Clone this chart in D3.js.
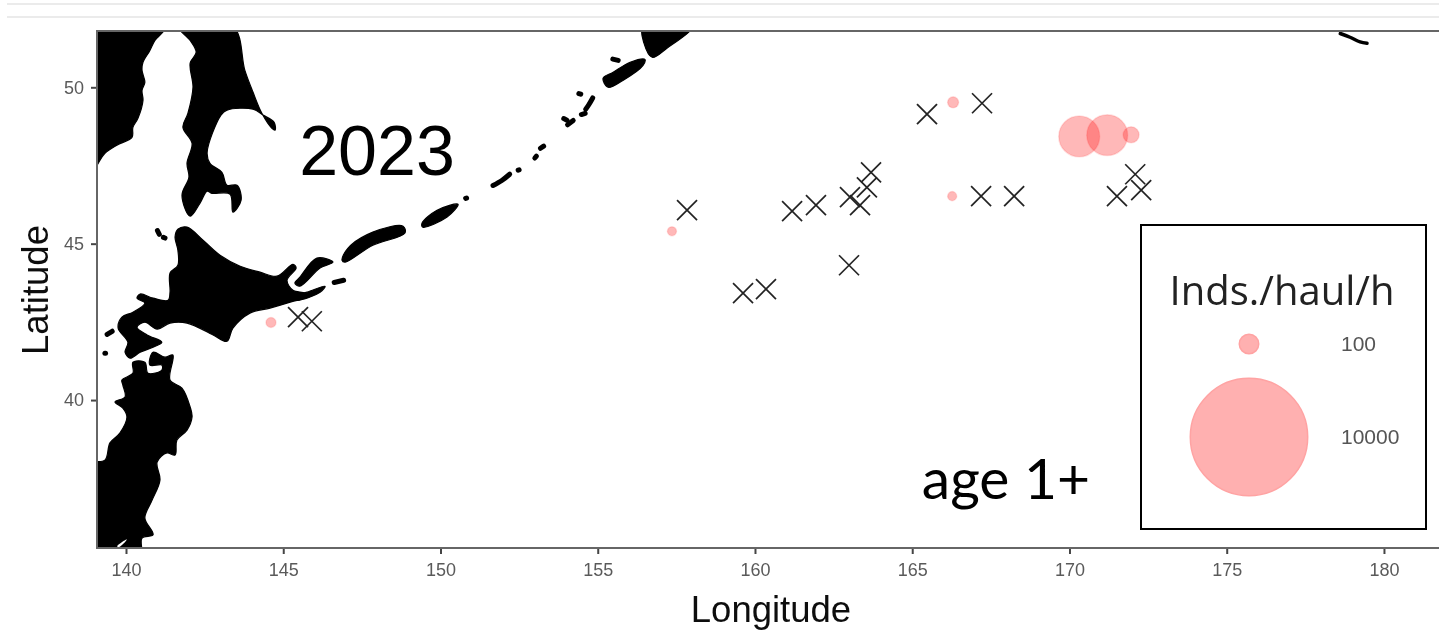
<!DOCTYPE html>
<html>
<head>
<meta charset="utf-8">
<script src="https://cdn.jsdelivr.net/npm/d3@7"></script>
<style>
  html,body{margin:0;padding:0;background:#fff;}
  svg{display:block;font-family:"Liberation Sans",Arial,sans-serif;}
</style>
</head>
<body>
<svg id="chart" width="1439" height="630"></svg>
<script>
// catch positions
var emptyHauls = [[145.47,42.65],[145.91,42.52],[157.84,46.07],[159.62,43.42],[160.35,43.55],[161.18,46.04],[161.94,46.23],[163.02,46.49],[163.34,46.23],[162.99,44.31],[163.56,46.80],[163.69,47.28],[165.47,49.14],[167.22,49.49],[167.19,46.52],[168.24,46.52],[171.51,46.52],[172.09,47.22],[172.28,46.71]];
var catchHauls = [[170.31,48.43,670],[171.20,48.47,670],[171.96,48.48,61],[166.30,49.52,23],[166.27,46.52,14],[157.36,45.40,14],[144.61,42.48,18]];
var legendValues = [100,10000];
var lonTicks = [140,145,150,155,160,165,170,175,180];
var latTicks = [40,45,50];

// coastlines, lon/lat
var mainland = [[139,51.9],[141.24,51.9],[140.92,51.50],[140.76,51.18],[140.54,50.80],[140.51,50.54],[140.60,50.16],[140.51,49.90],[140.54,49.58],[140.38,49.01],[140.22,48.72],[140.19,48.40],[139.71,48.15],[139.33,47.89],[139.08,47.51],[138.9,47.2]];
var sakhalin = [[141.65,51.95],[142.04,51.50],[142.23,51.12],[142.04,50.77],[142.13,50.00],[141.97,49.17],[141.81,48.72],[142.10,48.21],[141.94,47.57],[142.00,47.12],[141.78,46.55],[142.04,45.88],[142.35,46.29],[142.58,46.68],[142.73,46.61],[143.31,46.58],[143.40,46.01],[143.66,46.39],[143.53,46.87],[143.21,46.87],[143.05,47.28],[142.67,47.57],[142.58,47.92],[143.02,49.11],[143.21,49.27],[144.04,49.30],[144.36,49.11],[144.71,48.88],[144.74,48.63],[144.64,48.69],[144.32,49.17],[144.04,49.84],[143.78,50.54],[143.40,51.95]];
var hokkaido = [[141.94,45.53],[142.45,45.11],[142.99,44.63],[143.63,44.28],[144.26,44.09],[144.80,43.96],[145.31,44.34],[145.41,44.22],[145.12,43.83],[145.31,43.51],[145.69,43.42],[145.79,43.32],[145.22,43.13],[144.58,42.94],[143.94,42.78],[143.40,42.30],[143.21,41.88],[142.77,42.08],[141.94,42.46],[141.40,42.46],[140.99,42.27],[140.60,42.49],[140.35,42.33],[140.67,42.08],[141.14,41.85],[140.86,41.69],[140.45,41.53],[140.13,41.34],[139.97,41.53],[140.06,41.85],[139.75,42.30],[139.87,42.65],[140.22,42.81],[140.60,43.10],[140.35,43.26],[140.45,43.39],[140.86,43.26],[141.34,43.19],[141.40,43.45],[141.40,44.06],[141.65,44.31],[141.65,44.79],[141.56,45.21],[141.65,45.46]];
var honshu = [[138.8,35.0],[138.8,37.95],[139.33,38.08],[139.49,38.63],[139.81,38.95],[140.03,39.46],[139.90,39.74],[139.65,39.94],[139.97,40.10],[139.90,40.48],[139.87,40.64],[140.22,40.86],[140.22,41.21],[140.60,41.21],[140.70,40.86],[141.14,40.96],[141.14,41.12],[140.76,41.12],[140.86,41.53],[141.24,41.37],[141.49,41.44],[141.40,40.64],[141.78,40.38],[142.04,39.78],[142.10,39.46],[141.94,39.04],[141.62,38.72],[141.56,38.24],[141.30,38.31],[140.99,38.02],[141.08,37.44],[140.83,36.80],[140.60,36.23],[140.86,35.69],[140.51,35.59],[140.45,35.0]];
var kunashir = [[145.37,43.74],[145.53,43.93],[146.07,44.54],[146.58,44.41],[146.17,44.22],[145.53,43.64]];
var habomai = [[145.22,43.29],[145.76,43.45],[146.33,43.64],[146.17,43.45],[145.44,43.19]];
var iturup = [[146.87,44.47],[147.06,44.86],[147.85,45.37],[148.81,45.56],[148.87,45.34],[147.85,44.95],[146.96,44.41]];
var urup = [[149.41,45.65],[149.89,46.07],[150.56,46.26],[150.21,45.85],[149.44,45.53]];
var paramushir = [[155.17,50.29],[155.49,50.48],[156.03,50.80],[156.50,50.89],[156.44,50.70],[155.80,50.22],[155.33,50.00]];
var kamchatka = [[156.44,51.95],[158.03,51.95],[157.20,51.25],[156.73,50.96],[156.47,51.41]];
var landShapes = [mainland,sakhalin,hokkaido,honshu,kunashir,habomai,iturup,urup,paramushir,kamchatka];
var tokyoBay = [[139.72,35.33],[140.03,35.55],[139.95,35.44],[139.76,35.30]];
// little islands, drawn as thick round strokes
var islets = [
  [[141.00,45.42],[141.06,45.30]],[[141.19,45.20],[141.24,45.18]],
  [[139.40,42.10],[139.56,42.20]],[[139.33,41.50],[139.35,41.50]],
  [[146.62,43.76],[146.92,43.83]],[[150.80,46.45],[150.83,46.46]],
  [[151.67,46.86],[151.95,47.02],[152.20,47.22]],[[152.47,47.35],[152.50,47.36]],
  [[153.00,47.74],[153.05,47.80]],[[153.18,48.05],[153.28,48.12]],
  [[153.92,49.00],[154.02,48.95]],[[154.04,48.80],[154.22,48.94]],
  [[154.48,49.13],[154.60,49.17]],[[154.40,49.80],[154.46,49.78]],
  [[154.62,49.30],[154.72,49.45],[154.84,49.66]],[[155.48,50.90],[155.65,50.86]]
];
var ozernoy = [[178.61,51.72],[178.92,51.60],[179.24,51.45],[179.46,51.41]];

var svg = d3.select('#chart');
var margin = {"top":31,"left":97,"right":1439,"bottom":548};
var xScale = d3.scaleLinear().domain([139.078,181.75]).range([margin.left,margin.right]);
var yScale = d3.scaleLinear().domain([35.27,51.8]).range([margin.bottom,margin.top]);
var rScale = d3.scalePow().exponent(0.39).domain([0,10000]).range([0,58.7]);

// the reference is a slightly soft screenshot
var defs = svg.append('defs');
defs.append('filter').attr('id','soft').append('feGaussianBlur').attr('stdDeviation',0.6);
var root = svg.append('g').attr('filter','url(#soft)');

// the two pale lines above the plot
[4,17].forEach(function(y){
  root.append('line').attr('x1',7).attr('x2',1439).attr('y1',y).attr('y2',y)
    .attr('stroke','#ebebeb').attr('stroke-width',2);
});

defs.append('clipPath').attr('id','panel').append('rect')
  .attr('x',margin.left).attr('y',margin.top)
  .attr('width',margin.right-margin.left).attr('height',margin.bottom-margin.top);

var map = root.append('g').attr('clip-path','url(#panel)');
var coast = d3.line().x(function(d){return xScale(d[0]);}).y(function(d){return yScale(d[1]);}).curve(d3.curveCatmullRom.alpha(0.5));
var coastClosed = d3.line().x(function(d){return xScale(d[0]);}).y(function(d){return yScale(d[1]);}).curve(d3.curveCatmullRomClosed.alpha(0.5));

map.selectAll('path.land').data(landShapes).enter().append('path')
  .attr('class','land')
  .attr('d',function(d){return coastClosed(d);})
  .attr('fill','#000').attr('stroke','#000').attr('stroke-width',1.2).attr('stroke-linejoin','round');
map.append('path').attr('d',coastClosed(tokyoBay)).attr('fill','#fff');
map.selectAll('path.islet').data(islets).enter().append('path')
  .attr('class','islet')
  .attr('d',function(d){return coast(d);})
  .attr('fill','none').attr('stroke','#000').attr('stroke-width',5).attr('stroke-linecap','round').attr('stroke-linejoin','round');
map.append('path').attr('d',coast(ozernoy))
  .attr('fill','none').attr('stroke','#000').attr('stroke-width',3.5).attr('stroke-linecap','round');

// hauls with no catch
var crossSize = 10;
var crosses = map.selectAll('g.cross').data(emptyHauls).enter().append('g')
  .attr('class','cross')
  .attr('transform',function(d){return 'translate('+xScale(d[0])+','+yScale(d[1])+')';});
crosses.append('line').attr('x1',-crossSize).attr('y1',-crossSize).attr('x2',crossSize).attr('y2',crossSize);
crosses.append('line').attr('x1',-crossSize).attr('y1',crossSize).attr('x2',crossSize).attr('y2',-crossSize);
crosses.selectAll('line').attr('stroke','#222').attr('stroke-width',1.7);

map.selectAll('circle.catch').data(catchHauls).enter().append('circle')
  .attr('class','catch')
  .attr('cx',function(d){return xScale(d[0]);})
  .attr('cy',function(d){return yScale(d[1]);})
  .attr('r',function(d){return rScale(d[2]);})
  .attr('fill','#ff0000').attr('fill-opacity',0.28)
  .attr('stroke','#ff0000').attr('stroke-opacity',0.12).attr('stroke-width',1.5);

// axes
var xAxis = d3.axisBottom(xScale).tickValues(lonTicks).tickSize(6).tickPadding(9).tickSizeOuter(0);
var yAxis = d3.axisLeft(yScale).tickValues(latTicks).tickSize(6).tickPadding(7).tickSizeOuter(0);
var gx = root.append('g').attr('transform','translate(0,'+margin.bottom+')').call(xAxis);
var gy = root.append('g').attr('transform','translate('+margin.left+',0)').call(yAxis);
[gx,gy].forEach(function(g){
  g.select('.domain').remove();
  g.selectAll('.tick line').attr('stroke','#444').attr('stroke-width',2);
  g.selectAll('text').attr('fill','#5a5a5a').style('font-size','18px').style('font-family','"Liberation Sans",Arial,sans-serif');
});

// panel edges, no right side
root.append('path').attr('d','M1439,31H97V548H1439')
  .attr('fill','none').attr('stroke','#666').attr('stroke-width',2);

root.append('text').attr('x',771).attr('y',622).attr('text-anchor','middle')
  .style('font-size','36.5px').attr('fill','#111').text('Longitude');
root.append('text').attr('transform','translate(48,290) rotate(-90)').attr('text-anchor','middle')
  .style('font-size','36.5px').attr('fill','#111').text('Latitude');
root.append('text').attr('x',377).attr('y',175).attr('text-anchor','middle')
  .style('font-size','70px').attr('fill','#000').text('2023');
root.append('text').attr('x',1006).attr('y',499).attr('text-anchor','middle')
  .style('font-family','Lato,sans-serif').style('font-size','57px').attr('fill','#000').text('age 1+');

// legend box
var legend = root.append('g');
legend.append('rect').attr('x',1141).attr('y',225).attr('width',285).attr('height',304)
  .attr('fill','#fff').attr('stroke','#000').attr('stroke-width',2);
legend.append('text').attr('x',1282).attr('y',305).attr('text-anchor','middle')
  .style('font-family','"Open Sans",sans-serif').style('font-size','40px').attr('fill','#222').text('Inds./haul/h');
var legendY = d3.scalePoint().domain(legendValues).range([344,437]);
legend.selectAll('circle').data(legendValues).enter().append('circle')
  .attr('cx',1249).attr('cy',function(d){return legendY(d);}).attr('r',function(d){return rScale(d);})
  .attr('fill','#ffb0b0').attr('stroke','#ffa3a3').attr('stroke-width',1.5);
legend.selectAll('text.val').data(legendValues).enter().append('text')
  .attr('class','val').attr('x',1341).attr('y',function(d){return legendY(d)+7;})
  .style('font-size','21px').attr('fill','#555').text(function(d){return d;});
</script>
</body>
</html>
